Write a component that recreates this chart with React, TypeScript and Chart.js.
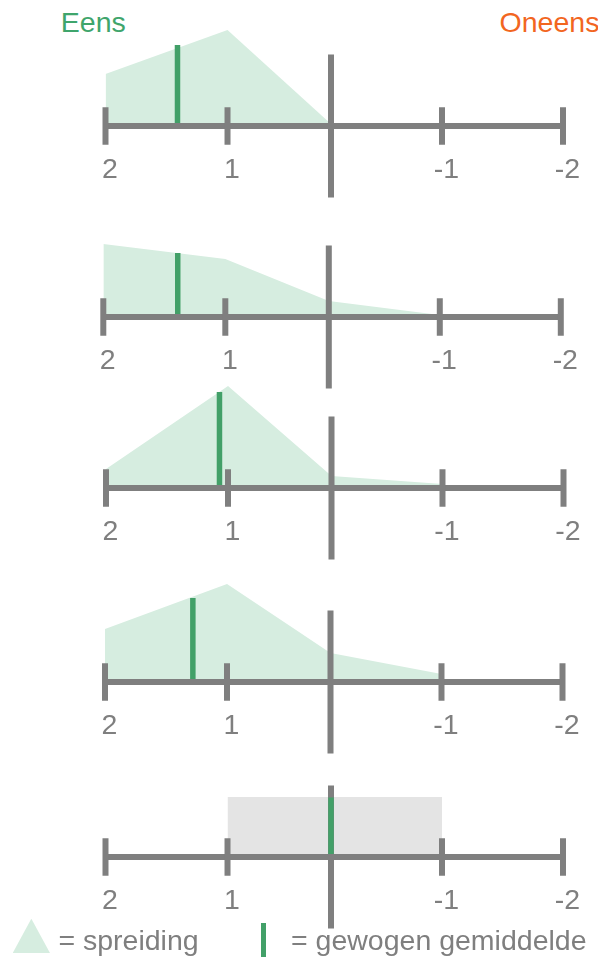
import React, { useEffect, useRef } from 'react';
import { Chart, registerables } from 'chart.js';

Chart.register(...registerables);

// ---- data -------------------------------------------------------------
// answer scale, left = agree ("Eens"), right = disagree ("Oneens")
const scaleValues = [2, 1, 0, -1, -2];
const tickLabels = ['2', '1', '', '-1', '-2'];

// spreading of answers per statement (relative share;
// null = no spreading drawn at that answer)
const spread1 = [52, 96, 2, null, null];
const spread2 = [73, 58, 16, 2, null];
const spread3 = [19, 102, 12, 4, null];
const spread4 = [53, 98, 29, 8, null];

// weighted mean per statement and the height of its marker
const meanValues = [1.41, 1.39, 1.07, 1.28, 0];
const meanHeights = [81, 64, 96, 84, 59.5];

// statement 5: neutral range instead of a spreading
const rangeFrom = 1;
const rangeTo = -1;
const rangeHeight = 60;

// ---- layout / style ---------------------------------------------------
const TICK_FRAC = [0, 0.2667, 0.4929, 0.7355, 1]; // uneven spacing of the drawn scale
const AXIS_Y = [125.7, 316.7, 488, 682.3, 856.7];
const PANEL_DX = [0, -2.2, 0.5, -0.5, 0];
const ABOVE = 112;
const BELOW = 93;
const CANVAS_W = 660;
const AXIS_LEFT = 105.5;
const AXIS_RIGHT = 563;
const FONT_SIZE = 28.5;
const TICK_PAD = 27;
const X_AXIS_HEIGHT = 2 * TICK_PAD + FONT_SIZE * 1.2;

const FONT = '"Liberation Sans", Arial, Helvetica, sans-serif';
const GRAY = '#7f7f7f';
const AREA = '#d6ede0';
const RANGE = '#e4e4e4';
const GREEN = '#42a068';
const TITLE_GREEN = '#3fa56c';
const ORANGE = '#f2661f';

function toAxis(v: number): number {
  for (let i = 0; i < scaleValues.length - 1; i++) {
    const a = scaleValues[i];
    const b = scaleValues[i + 1];
    if (v <= a && v >= b) {
      const t = (a - v) / (a - b);
      return TICK_FRAC[i] + t * (TICK_FRAC[i + 1] - TICK_FRAC[i]);
    }
  }
  return v > scaleValues[0] ? 0 : 1;
}

type PanelProps = {
  index: number;
  spread?: (number | null)[];
  range?: boolean;
};

function Panel({ index, spread, range }: PanelProps) {
  const ref = useRef<HTMLCanvasElement | null>(null);

  useEffect(() => {
    if (!ref.current) return;
    const datasets: any[] = [];
    if (spread) {
      datasets.push({
        data: scaleValues.map((v, i) => ({ x: toAxis(v), y: spread[i] })),
        fill: 'origin',
        backgroundColor: AREA,
        borderWidth: 0,
        pointRadius: 0,
        tension: 0,
        spanGaps: false,
        clip: false,
        order: 6,
      });
    }
    if (range) {
      datasets.push({
        data: [
          { x: toAxis(rangeFrom), y: rangeHeight },
          { x: toAxis(rangeTo), y: rangeHeight },
        ],
        fill: 'origin',
        backgroundColor: RANGE,
        borderWidth: 0,
        pointRadius: 0,
        clip: false,
        order: 6,
      });
    }
    // centre (neutral) line
    datasets.push({
      data: [{ x: toAxis(0), y: 0 }],
      showLine: false,
      pointStyle: 'line',
      rotation: 90,
      pointRadius: 71.5,
      pointBorderWidth: 6,
      pointBorderColor: GRAY,
      pointBackgroundColor: GRAY,
      clip: false,
      order: 5,
    });
    // weighted mean
    const m = meanValues[index];
    datasets.push({
      data: [
        { x: toAxis(m), y: 0 },
        { x: toAxis(m), y: meanHeights[index] },
      ],
      borderColor: GREEN,
      borderWidth: 5.5,
      borderCapStyle: 'butt',
      pointRadius: 0,
      clip: false,
      order: 4,
    });
    // scale line
    datasets.push({
      data: [
        { x: toAxis(scaleValues[0]), y: 0 },
        { x: toAxis(scaleValues[scaleValues.length - 1]), y: 0 },
      ],
      borderColor: GRAY,
      borderWidth: 6,
      borderCapStyle: 'butt',
      pointRadius: 0,
      clip: false,
      order: 3,
    });
    // tick marks (the neutral answer is marked by the centre line)
    datasets.push({
      data: scaleValues.filter((v) => v !== 0).map((v) => ({ x: toAxis(v), y: 0 })),
      showLine: false,
      pointStyle: 'line',
      rotation: 90,
      pointRadius: 18.75,
      pointBorderWidth: 6,
      pointBorderColor: GRAY,
      pointBackgroundColor: GRAY,
      clip: false,
      order: 2,
    });

    const dx = PANEL_DX[index];
    const chart = new Chart(ref.current, {
      type: 'line',
      data: { datasets },
      options: {
        responsive: false,
        maintainAspectRatio: false,
        animation: false,
        devicePixelRatio: 1,
        events: [],
        layout: {
          autoPadding: false,
          padding: {
            left: AXIS_LEFT + dx,
            right: CANVAS_W - AXIS_RIGHT - dx,
            top: 0,
            bottom: BELOW - X_AXIS_HEIGHT,
          },
        },
        plugins: {
          legend: { display: false },
          tooltip: { enabled: false },
          title: { display: false },
        },
        scales: {
          x: {
            type: 'linear',
            min: 0,
            max: 1,
            position: 'bottom',
            grid: { display: false, drawTicks: false },
            border: { display: false },
            afterBuildTicks: (axis: any) => {
              axis.ticks = TICK_FRAC.map((value) => ({ value }));
            },
            ticks: {
              autoSkip: false,
              maxRotation: 0,
              minRotation: 0,
              padding: TICK_PAD,
              labelOffset: 4.5,
              color: GRAY,
              font: { family: FONT, size: FONT_SIZE },
              callback: (_value: any, i: number) => tickLabels[i],
            },
          },
          y: {
            type: 'linear',
            display: false,
            min: 0,
            max: ABOVE,
          },
        },
      } as any,
    });
    return () => chart.destroy();
  }, [index, spread, range]);

  return (
    <canvas
      ref={ref}
      width={CANVAS_W}
      height={ABOVE + BELOW}
      style={{
        position: 'absolute',
        left: 0,
        top: AXIS_Y[index] - ABOVE,
        width: CANVAS_W,
        height: ABOVE + BELOW,
        display: 'block',
      }}
    />
  );
}

const textStyle: React.CSSProperties = {
  position: 'absolute',
  fontFamily: FONT,
  fontSize: FONT_SIZE,
  lineHeight: FONT_SIZE + 'px',
  whiteSpace: 'nowrap',
  margin: 0,
};

export default function App() {
  return (
    <div
      style={{
        position: 'absolute',
        left: 0,
        top: 0,
        width: 598,
        height: 957,
        overflow: 'hidden',
        background: '#ffffff',
      }}
    >
      <div style={{ ...textStyle, left: 60.8, top: 8.2, color: TITLE_GREEN }}>Eens</div>
      <div style={{ ...textStyle, left: 499.6, top: 8.2, color: ORANGE }}>Oneens</div>

      <Panel index={0} spread={spread1} />
      <Panel index={1} spread={spread2} />
      <Panel index={2} spread={spread3} />
      <Panel index={3} spread={spread4} />
      <Panel index={4} range />

      <div
        style={{
          position: 'absolute',
          left: 12.7,
          top: 918.7,
          width: 37.3,
          height: 34.3,
          background: AREA,
          clipPath: 'polygon(50% 0, 100% 100%, 0 100%)',
        }}
      />
      <div style={{ ...textStyle, left: 58.4, top: 925.9, color: GRAY }}>= spreiding</div>
      <div
        style={{
          position: 'absolute',
          left: 260.7,
          top: 922.7,
          width: 5.4,
          height: 34.3,
          background: GREEN,
        }}
      />
      <div style={{ ...textStyle, left: 291, top: 925.9, color: GRAY }}>= gewogen gemiddelde</div>
    </div>
  );
}
